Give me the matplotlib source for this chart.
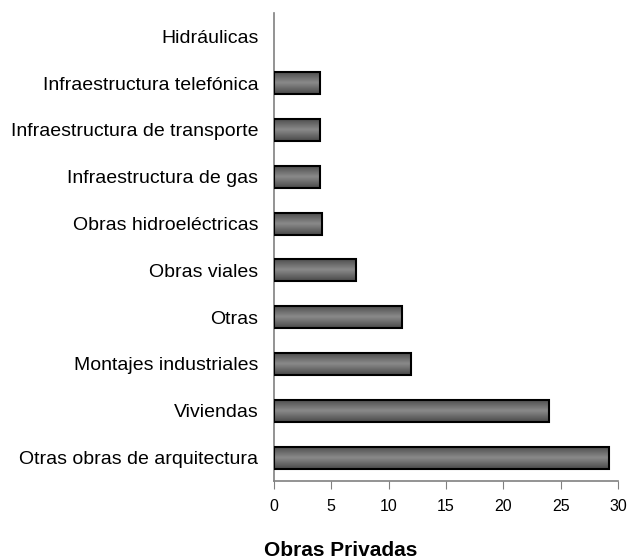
import numpy as np
import matplotlib
matplotlib.use('Agg')
import matplotlib.pyplot as plt
from matplotlib.colors import LinearSegmentedColormap

categorias = ['Otras obras de arquitectura', 'Viviendas', 'Montajes industriales',
              'Otras', 'Obras viales', 'Obras hidroeléctricas',
              'Infraestructura de gas', 'Infraestructura de transporte',
              'Infraestructura telefónica', 'Hidráulicas']
valores = [29.2, 24.0, 12.0, 11.2, 7.2, 4.2, 4.0, 4.0, 4.0, 0.0]
xticks = [0, 5, 10, 15, 20, 25, 30]
titulo = 'Obras Privadas'

plt.rcParams['font.family'] = ['Liberation Sans', 'DejaVu Sans']

fig = plt.figure(figsize=(6.29, 5.59), dpi=100)
ax = fig.add_axes([0.435, 0.1395, 0.548, 0.8375])

y = np.arange(len(categorias))
h = 0.47
cmap = LinearSegmentedColormap.from_list('g', ['#4a4a4a', '#8a8a8a', '#4a4a4a'])
grad = np.linspace(0, 1, 64).reshape(-1, 1)

for yi, v in zip(y, valores):
  if v <= 0:
    continue
  ax.barh(yi, v, height=h, color='none', edgecolor='black', linewidth=1.5, zorder=3)
  ax.imshow(grad, extent=[0, v, yi - h / 2, yi + h / 2], aspect='auto', cmap=cmap,
            origin='lower', zorder=2, interpolation='bicubic')

ax.set_xlim(0, 30)
ax.set_ylim(-0.5, len(categorias) - 0.5)
ax.set_xticks(xticks)
ax.set_xticklabels([str(t) for t in xticks], fontsize=11.5)
ax.set_yticks(y)
ax.set_yticklabels(categorias, fontsize=14)
ax.tick_params(axis='y', length=0, pad=11)
ax.tick_params(axis='x', direction='out', length=6, color='#808080', pad=7)

for s in ['top', 'right']:
  ax.spines[s].set_visible(False)
for s in ['left', 'bottom']:
  ax.spines[s].set_color('#808080')
  ax.spines[s].set_linewidth(1.2)

fig.text(341 / 629, 1 - 550 / 559, titulo, ha='center', va='center',
         fontsize=15, fontweight='bold')

fig.savefig('out.png', dpi=100)
